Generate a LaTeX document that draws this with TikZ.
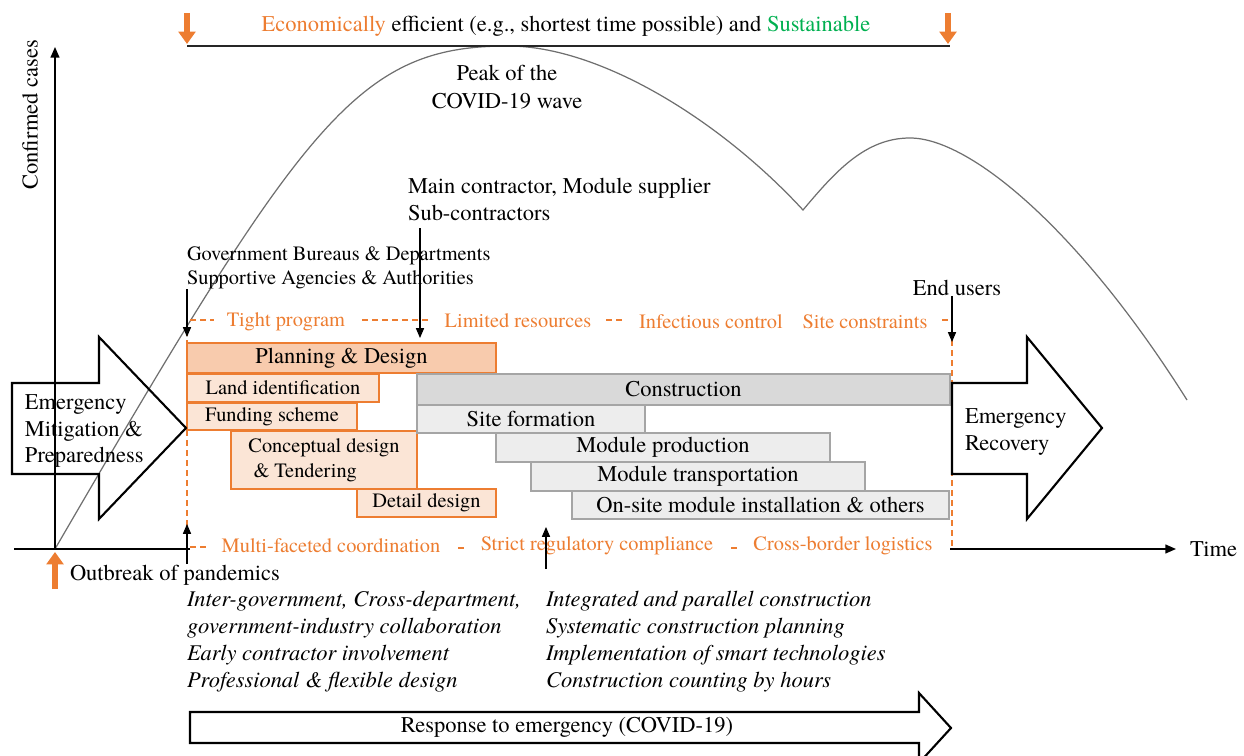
\documentclass[tikz,border=0pt]{standalone}
\usepackage{fontspec}
\setmainfont{texgyretermes}[Extension=.otf, UprightFont=*-regular, ItalicFont=*-italic, BoldFont=*-bold, BoldItalicFont=*-bolditalic]
\usetikzlibrary{arrows.meta}
\definecolor{orng}{HTML}{ED7D31}
\definecolor{porng}{HTML}{F8CBAD}
\definecolor{lorng}{HTML}{FBE5D6}
\definecolor{gline}{HTML}{A5A5A5}
\definecolor{gdark}{HTML}{D9D9D9}
\definecolor{glight}{HTML}{EDEDED}
\definecolor{grn}{HTML}{00B050}
\definecolor{curvec}{HTML}{6F6F6F}
\newcommand\gbox[6]{\node[#1,anchor=north west,minimum width={(#4-#2)*0.02cm},minimum height={(#5-#3)*0.02cm}] (#6) at (#2,#3)}
\tikzset{
  txt/.style={inner sep=0pt, outer sep=0pt, font=\fontsize{12.8}{15.3}\selectfont},
  stxt/.style={inner sep=0pt, outer sep=0pt, font=\fontsize{11.6}{13.6}\selectfont},
  itxt/.style={inner sep=0pt, outer sep=0pt, align=left, anchor=west, font=\fontsize{12.8}{15.3}\selectfont\itshape},
  pbox/.style={draw=orng, line width=1.1pt, inner sep=0pt, outer sep=0pt},
  pmain/.style={pbox, fill=porng, font=\fontsize{12.8}{15}\selectfont},
  psub/.style={pbox, fill=lorng, font=\fontsize{11.6}{14.2}\selectfont},
  cbox/.style={draw=gline, line width=1.1pt, inner sep=0pt, outer sep=0pt, font=\fontsize{12.8}{15}\selectfont},
  cmain/.style={cbox, fill=gdark},
  csub/.style={cbox, fill=glight},
  cons/.style={text=orng, inner sep=0pt, font=\fontsize{11.6}{14}\selectfont},
  odash/.style={draw=orng, line width=0.7pt, dash pattern=on 3.4pt off 2.3pt},
  thinarr/.style={-{Triangle[width=4.6pt,length=5.6pt]}, line width=0.6pt},
  axisarr/.style={-{Triangle[width=5pt,length=6pt]}, line width=0.85pt},
  blockarr/.style={draw=orng, line width=3.4pt, -{Triangle[width=9.5pt,length=7pt]}},
  bigarr/.style={draw=black, line width=1.2pt, line join=miter},
  wave/.style={draw=curvec, line width=0.7pt},
}
\begin{document}
\begin{tikzpicture}[x=0.02cm,y=-0.02cm]
\useasboundingbox (0,0) rectangle (1244,756);

% epidemic curve
\draw[wave] (55,549) .. controls (305,119) and (358,46) .. (508,46)
  .. controls (600,46) and (720,120) .. (803,210)
  .. controls (835,172) and (865,138) .. (910,138)
  .. controls (970,138) and (1080,230) .. (1187,400);

% axes
\coordinate (origin) at (55,549);
\coordinate (ytop) at (55,47);
\coordinate (xleft) at (14,549);
\coordinate (xright) at (1176,549);
\draw[axisarr] (origin) -- (ytop);
\draw[axisarr] (xleft) -- (xright);
\fill[white] (190,538) rectangle (950,557);
\node[txt, rotate=90] (ylab) at (30,115) {Confirmed cases};
\node[txt, anchor=west] (time) at (1190,549) {Time};

% top goal line
\coordinate (tl) at (187,46);
\coordinate (tr) at (950,46);
\draw[line width=0.85pt, black!85] (tl) -- (tr);
\coordinate (oa1) at (187,13);
\coordinate (ob1) at (187,44);
\coordinate (oa2) at (948,13);
\coordinate (ob2) at (948,44);
\draw[blockarr] (oa1) -- (ob1);
\draw[blockarr] (oa2) -- (ob2);
\node[txt] (goal) at (566,26) {\textcolor{orng}{Economically} efficient (e.g., shortest time possible) and \textcolor{grn}{Sustainable}};

\node[txt, align=center, font=\fontsize{12.8}{15.9}\selectfont] (peak) at (507,87) {Peak of the\\COVID-19 wave};
\node[txt, align=left, anchor=west] (mc) at (408,199.5) {Main contractor, Module supplier\\Sub-contractors};
\node[stxt, align=left, anchor=west] (gov) at (187,268) {Government Bureaus \& Departments\\Supportive Agencies \& Authorities};
\node[txt] (eu) at (957,288) {End users};

% orange dashed frame pieces
\draw[odash] (187,320) -- (187,547);
\draw[odash] (952,320) -- (952,547);
\draw[odash] (190,320) -- (214,320);
\draw[odash] (362,320) -- (432,320);
\draw[odash] (606,320) -- (624,320);
\draw[odash] (942,320) -- (952,320);
\draw[odash] (190,547) -- (209,547);
\draw[odash] (458,548) -- (465,548);
\draw[odash] (731,548) -- (738,548);

% constraints
\node[cons] (c1) at (286,322) {Tight program};
\node[cons] (c2) at (518,321) {Limited resources};
\node[cons] (c3) at (711,322) {Infectious control};
\node[cons] (c4) at (865,322) {Site constraints};
\node[cons] (c5) at (331,546) {Multi-faceted coordination};
\node[cons] (c6) at (597,546) {Strict regulatory compliance};
\node[cons] (c7) at (843,546) {Cross-border logistics};

% boxes
\gbox{pmain}{187}{343}{496}{373}{plan} {Planning \& Design};
\gbox{psub}{187}{374}{379}{402}{land} {Land identification};
\gbox{psub}{187}{403}{357}{430}{fund} {Funding scheme};
\gbox{psub}{231}{431}{417}{489}{concept} {\begin{tabular}{@{}l@{}}Conceptual design\\\hspace*{0.25em}\& Tendering\end{tabular}};
\gbox{psub}{357}{489}{496}{517}{detail} {Detail design};
\gbox{cmain}{417}{374}{950}{405}{constr} {Construction};
\gbox{csub}{417}{405}{645}{433}{site} {Site formation};
\gbox{csub}{496}{433}{830}{462}{prod} {Module production};
\gbox{csub}{531}{462}{865}{491}{trans} {Module transportation};
\gbox{csub}{572}{491}{949}{519}{onsite} {On-site module installation \& others};

% big arrows
\draw[bigarr] (12,383) -- (99,383) -- (99,337) -- (186,428) -- (99,519) -- (99,474) -- (12,474) -- cycle;
\node[txt, align=left, anchor=west] (emp) at (25,431) {Emergency\\Mitigation \&\\Preparedness};
\draw[bigarr] (952,383) -- (1027,383) -- (1027,337) -- (1102,428) -- (1027,519) -- (1027,474) -- (952,474) -- cycle;
\node[txt, align=left, anchor=west] (er) at (965,432) {Emergency\\Recovery};
\draw[bigarr] (190,712) -- (919,712) -- (919,693) -- (951,728) -- (919,763) -- (919,743) -- (190,743) -- cycle;
\node[txt] (resp) at (567,727) {Response to emergency (COVID-19)};

% stakeholder arrows
\coordinate (govB) at (187,337);
\coordinate (mcB) at (420,338);
\coordinate (euB) at (952,342);
\draw[thinarr] (govB |- gov.south) -- (govB);
\draw[thinarr] ([yshift=-0.15cm]mcB |- mc.south) -- (mcB);
\draw[thinarr] (euB |- eu.south) -- (euB);
\coordinate (b1A) at (187,564);
\coordinate (b1B) at (187,524);
\coordinate (b2A) at (546,569);
\coordinate (b2B) at (546,527);
\draw[thinarr] (b1A) -- (b1B);
\draw[thinarr] (b2A) -- (b2B);

% outbreak
\coordinate (obA) at (55,589);
\coordinate (obB) at (55,552);
\draw[blockarr] (obA) -- (obB);
\node[txt, anchor=west] (ob) at (70,575) {Outbreak of pandemics};

% italic lists
\node[itxt] (leftlist) at (187,641.5) {Inter-government, Cross-department,\\government-industry collaboration\\Early contractor involvement\\Professional \& flexible design};
\node[itxt] (rightlist) at (546,641.5) {Integrated and parallel construction\\Systematic construction planning\\Implementation of smart technologies\\Construction counting by hours};
\end{tikzpicture}
\end{document}
